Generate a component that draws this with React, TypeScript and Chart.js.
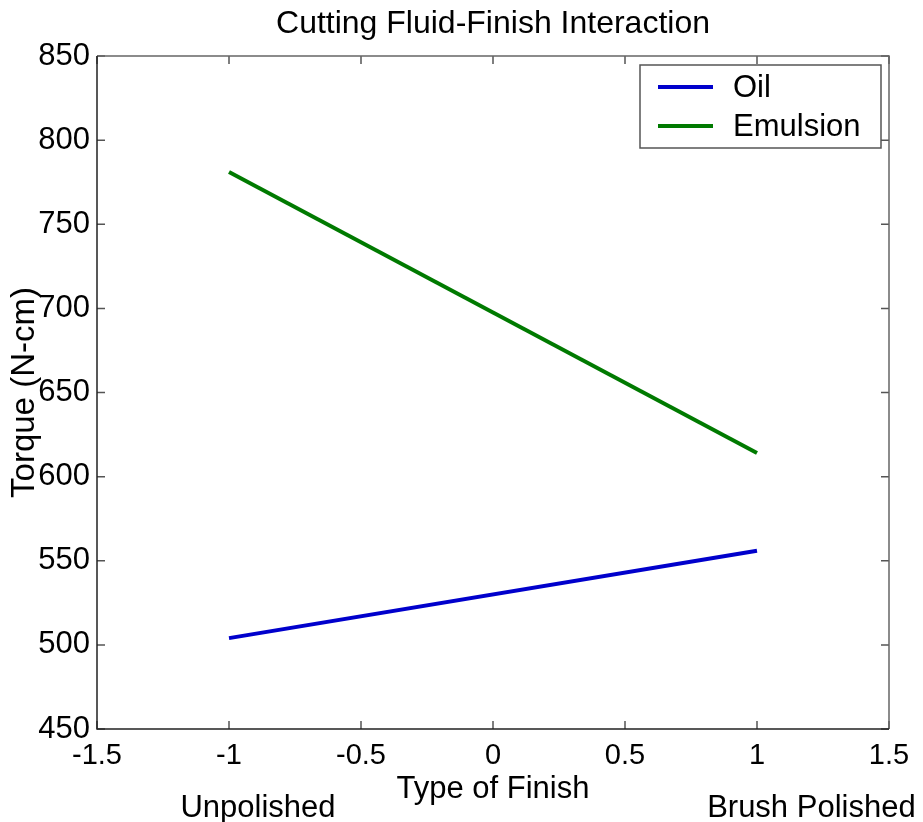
import React, { useEffect, useRef } from "react";
import { Chart, registerables } from "chart.js";

Chart.register(...registerables);

// ---- data ----
const finishLevels = [-1, 1];
const oilTorque = [504, 556];
const emulsionTorque = [781, 614];
const seriesNames = ["Oil", "Emulsion"];
const seriesColors = ["#0000cc", "#007a00"];
const xTickValues = [-1.5, -1, -0.5, 0, 0.5, 1, 1.5];
const yTickValues = [450, 500, 550, 600, 650, 700, 750, 800, 850];
const chartTitle = "Cutting Fluid-Finish Interaction";
const xAxisTitle = "Type of Finish";
const yAxisTitle = "Torque (N-cm)";
const levelNames = ["Unpolished", "Brush Polished"];
const levelNamePositions = [-0.89, 1.206];

const FONT = "'Liberation Sans', Arial, Helvetica, sans-serif";

const framePlugin = {
  id: "matlabFrame",
  beforeDatasetsDraw(chart: any) {
    const { ctx, chartArea } = chart;
    const { left, right, top, bottom } = chartArea;
    const xs = chart.scales.x;
    const ys = chart.scales.y;
    ctx.save();
    ctx.lineWidth = 1.5;
    ctx.strokeStyle = "#555";
    const tl = 8;
    ctx.beginPath();
    xTickValues.forEach((v) => {
      const px = xs.getPixelForValue(v);
      ctx.moveTo(px, bottom);
      ctx.lineTo(px, bottom - tl);
      ctx.moveTo(px, top);
      ctx.lineTo(px, top + tl);
    });
    yTickValues.forEach((v) => {
      const py = ys.getPixelForValue(v);
      ctx.moveTo(left, py);
      ctx.lineTo(left + tl, py);
      ctx.moveTo(right, py);
      ctx.lineTo(right - tl, py);
    });
    ctx.stroke();
    // box
    ctx.strokeStyle = "#666";
    ctx.beginPath();
    ctx.moveTo(left, top);
    ctx.lineTo(right, top);
    ctx.lineTo(right, bottom);
    ctx.stroke();
    ctx.strokeStyle = "#222";
    ctx.beginPath();
    ctx.moveTo(left, top);
    ctx.lineTo(left, bottom);
    ctx.lineTo(right, bottom);
    ctx.stroke();
    ctx.restore();
  },
  afterDraw(chart: any) {
    const { ctx, chartArea } = chart;
    const xs = chart.scales.x;
    ctx.save();
    // level names under the axis
    ctx.fillStyle = "#000";
    ctx.font = `31px ${FONT}`;
    ctx.textAlign = "center";
    ctx.textBaseline = "alphabetic";
    levelNames.forEach((name, i) => {
      ctx.fillText(name, xs.getPixelForValue(levelNamePositions[i]), chartArea.bottom + 88);
    });
    // legend box
    const bw = 241;
    const bh = 83;
    const bx = chartArea.right - 8 - bw;
    const by = chartArea.top + 9;
    ctx.fillStyle = "#fff";
    ctx.fillRect(bx, by, bw, bh);
    ctx.strokeStyle = "#555";
    ctx.lineWidth = 1.5;
    ctx.strokeRect(bx, by, bw, bh);
    chart.data.datasets.forEach((ds: any, i: number) => {
      const ry = by + 22 + i * 39;
      ctx.strokeStyle = ds.borderColor;
      ctx.lineWidth = 4;
      ctx.beginPath();
      ctx.moveTo(bx + 18, ry);
      ctx.lineTo(bx + 73, ry);
      ctx.stroke();
      ctx.fillStyle = "#000";
      ctx.font = `31px ${FONT}`;
      ctx.textAlign = "left";
      ctx.textBaseline = "middle";
      ctx.fillText(ds.label, bx + 93, ry + 1);
    });
    ctx.restore();
  },
};

export default function App() {
  const ref = useRef<HTMLCanvasElement | null>(null);

  useEffect(() => {
    if (!ref.current) return;
    const makeData = (vals: number[]) => finishLevels.map((x, i) => ({ x, y: vals[i] }));
    const chart = new Chart(ref.current, {
      type: "line",
      data: {
        datasets: [oilTorque, emulsionTorque].map((vals, i) => ({
          label: seriesNames[i],
          data: makeData(vals),
          borderColor: seriesColors[i],
          backgroundColor: seriesColors[i],
          borderWidth: 4,
          pointRadius: 0,
          fill: false,
          tension: 0,
        })),
      },
      options: {
        responsive: false,
        animation: false,
        events: [],
        layout: { padding: { left: 0, right: 34, top: 0, bottom: 0 } },
        plugins: {
          legend: { display: false },
          tooltip: { enabled: false },
          title: {
            display: true,
            text: chartTitle,
            fullSize: false,
            color: "#000",
            font: { family: FONT, size: 32, weight: "normal", lineHeight: 1.2 },
            padding: { top: 5, bottom: 12.6 },
          },
        },
        scales: {
          x: {
            type: "linear",
            min: -1.5,
            max: 1.5,
            grid: { display: false, drawTicks: false, tickLength: 0 },
            border: { display: false },
            afterFit: (s: any) => {
              s.height = 93;
            },
            afterBuildTicks: (s: any) => {
              s.ticks = xTickValues.map((v) => ({ value: v }));
            },
            ticks: {
              autoSkip: false,
              maxRotation: 0,
              padding: 9.6,
              color: "#000",
              font: { family: FONT, size: 29, lineHeight: 1.2 },
              callback: (v: any) => String(v),
            },
            title: {
              display: true,
              text: xAxisTitle,
              color: "#000",
              font: { family: FONT, size: 31, lineHeight: 1.2 },
              padding: { top: 0, bottom: 14.4 },
            },
          },
          y: {
            type: "linear",
            min: 450,
            max: 850,
            grid: { display: false, drawTicks: false, tickLength: 0 },
            border: { display: false },
            afterFit: (s: any) => {
              s.width = 97;
            },
            afterBuildTicks: (s: any) => {
              s.ticks = yTickValues.map((v) => ({ value: v }));
            },
            ticks: {
              autoSkip: false,
              padding: 7,
              color: "#000",
              font: { family: FONT, size: 31, lineHeight: 1.2 },
              callback: (v: any) => String(v),
            },
            title: {
              display: true,
              text: yAxisTitle,
              color: "#000",
              font: { family: FONT, size: 33, lineHeight: 1.2 },
              padding: { top: 5, bottom: 0 },
            },
          },
        },
      },
      plugins: [framePlugin],
    } as any);
    return () => chart.destroy();
  }, []);

  return (
    <div style={{ position: "fixed", left: 0, top: 0, width: 923, height: 822, background: "#fff" }}>
      <canvas ref={ref} width={923} height={822} style={{ display: "block", width: 923, height: 822 }} />
    </div>
  );
}
